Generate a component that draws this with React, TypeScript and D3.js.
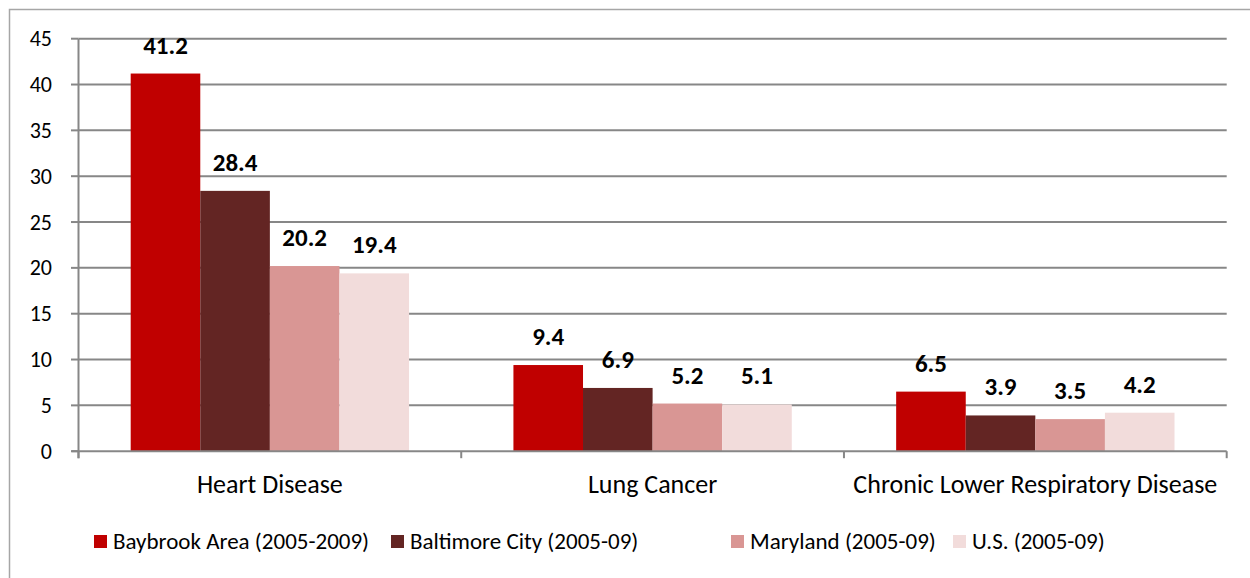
import React from "react";
import * as d3 from "d3";

const categories = ["Heart Disease", "Lung Cancer", "Chronic Lower Respiratory Disease"];
const seriesNames = ["Baybrook Area (2005-2009)", "Baltimore City (2005-09)", "Maryland (2005-09)", "U.S. (2005-09)"];
const baybrook = [41.2, 9.4, 6.5];
const baltimore = [28.4, 6.9, 3.9];
const maryland = [20.2, 5.2, 3.5];
const us = [19.4, 5.1, 4.2];
const seriesColors = ["#C00000", "#632523", "#D99694", "#F2DCDB"];
const yTicks = [0, 5, 10, 15, 20, 25, 30, 35, 40, 45];

const W = 1250, H = 578;
const FONT = "Carlito, Calibri, Lato, 'Open Sans', sans-serif";

export default function App() {
  const seriesValues = [baybrook, baltimore, maryland, us];
  const x0 = 78.5, x1 = 1226.7, yTop = 38.7, yBot = 451.2;
  const x = d3.scaleBand<string>().domain(categories).range([x0, x1]).paddingInner(0).paddingOuter(0);
  const y = d3.scaleLinear().domain([0, 45]).range([yBot, yTop]);
  const bw = x.bandwidth() / 5.5;
  const gridColor = "#878787";
  const legendX = [94, 391, 731, 953];

  return (
    <svg width={W} height={H} style={{ position: "absolute", left: 0, top: 0, background: "#fff" }} fontFamily={FONT}>
      <rect x={9.5} y={9.5} width={1260} height={600} fill="none" stroke="#a6a6a6" strokeWidth={1.5} />
      {yTicks.map((t) => (
        <g key={t}>
          {t > 0 && <line x1={x0} x2={x1} y1={y(t)} y2={y(t)} stroke={gridColor} strokeWidth={2} />}
          <line x1={71} x2={x0} y1={y(t)} y2={y(t)} stroke={gridColor} strokeWidth={2} />
          <text x={52} y={y(t) + 7.5} textAnchor="end" fontSize={22} fill="#000">{t}</text>
        </g>
      ))}
      {categories.map((c, ci) =>
        seriesValues.map((vals, si) => {
          const bx = (x(c) as number) + bw * 0.75 + si * bw;
          const v = vals[ci];
          return (
            <g key={c + si}>
              <rect x={bx} y={y(v)} width={bw} height={y(0) - y(v)} fill={seriesColors[si]} />
              <text x={bx + bw / 2} y={y(v) - 20} textAnchor="middle" fontSize={25} fontWeight="bold" fill="#000">{v.toFixed(1)}</text>
            </g>
          );
        })
      )}
      <line x1={x0} x2={x0} y1={yTop} y2={yBot + 7} stroke={gridColor} strokeWidth={2} />
      <line x1={x0 - 7} x2={x1} y1={yBot} y2={yBot} stroke={gridColor} strokeWidth={2} />
      {[...categories.map((c) => x(c) as number), x1].map((px, i) => (
        <line key={i} x1={px} x2={px} y1={yBot} y2={yBot + 7} stroke={gridColor} strokeWidth={2} />
      ))}
      {categories.map((c) => (
        <text key={c} x={(x(c) as number) + x.bandwidth() / 2} y={493} textAnchor="middle" fontSize={26} fill="#000">{c}</text>
      ))}
      {seriesNames.map((n, i) => (
        <g key={n}>
          <rect x={legendX[i]} y={535} width={13} height={13} fill={seriesColors[i]} />
          <text x={legendX[i] + 19} y={549} fontSize={23} fill="#000">{n}</text>
        </g>
      ))}
    </svg>
  );
}
